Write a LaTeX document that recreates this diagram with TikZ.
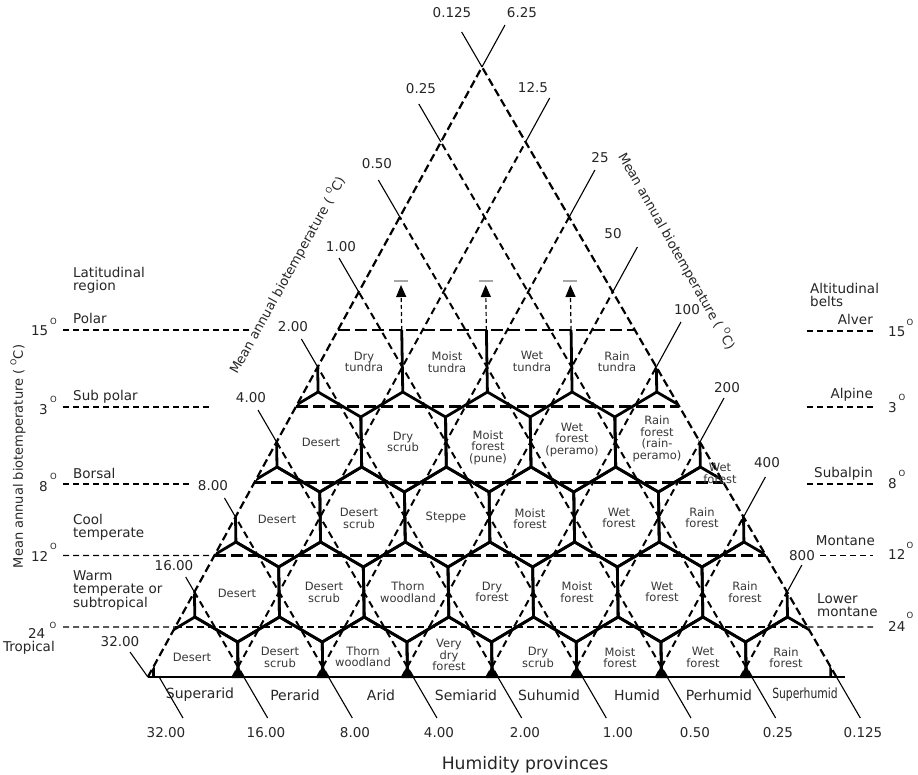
\documentclass[tikz,border=0pt]{standalone}
\usepackage{fontspec}
\setmainfont{DejaVu Sans}
\usetikzlibrary{arrows.meta,calc}
\newcommand\Pt[2]{({(#1)-(667-(#2))/60},{#2})}
\newcommand\fsz[1]{\fontsize{#1}{#1}\selectfont}
\newcommand\degO{\raisebox{0.5em}{\fsz{8}O}}
\begin{document}
\begin{tikzpicture}[x=1pt,y=-1pt,
 hexl/.style={line width=2.8pt,line join=round},
 latl/.style={line width=2pt,dash pattern=on 7pt off 4.5pt},
 edgel/.style={line width=2.2pt,dash pattern=on 8pt off 4pt},
 hzin/.style={line width=2.1pt,dash pattern=on 12pt off 5pt},
 hzlow/.style={line width=1.6pt,dash pattern=on 7pt off 4pt},
 hzout/.style={line width=1.3pt,dash pattern=on 6pt off 4pt},
 tickl/.style={line width=1.1pt},
 zone/.style={font=\fsz{11.5},align=center,text=black!78,inner sep=0pt},
 num/.style={font=\fsz{13.5},text=black!85,inner sep=0pt},
 prov/.style={font=\fsz{14},text=black!85,inner sep=0pt},
 side/.style={font=\fsz{13.5},text=black!85,inner sep=0pt,align=left},
 degsup/.style={font=\fsz{8.5},text=black!85,inner sep=0pt},
 axis/.style={font=\fsz{13},text=black!85,inner sep=0pt},
]
\useasboundingbox (0,0) rectangle (918,775);
\fill[white] (0,0) rectangle (918,775);

% ---------- lattice points ----------
\foreach \r in {1,...,9}{
  \pgfmathtruncatemacro\n{9-\r}
  \foreach \j in {0,...,\n}{
    \path \Pt{153.333+42.333*(\r-1)+84.667*\j}{667-75*(\r-1)} coordinate (L-\r-\j);
  }
}
\path \Pt{147.689}{677} coordinate (A);
\path \Pt{836.311}{677} coordinate (B);
\coordinate (C) at (L-9-0);
\coordinate (Bx) at (845,677);
\foreach \j in {0,...,8}{
  \path \Pt{153.333+84.667*\j+5.644}{677} coordinate (BD-\j);
  \path \Pt{153.333+84.667*\j-5.644}{677} coordinate (BA-\j);
  \path \Pt{153.333+84.667*\j+5.644+23.14}{718} coordinate (BT-\j);
}

% ---------- honeycomb ----------
\begin{scope}
\clip (A) -- (B) -- (C) -- cycle;
\foreach \r in {1,...,4}{
  \pgfmathtruncatemacro\n{8-\r}
  \foreach \k in {0,...,\n}{
    \pgfmathsetmacro\cx{195.667+42.333*(\r-1)+84.667*\k}
    \pgfmathsetmacro\cy{667-75*(\r-1)}
    \draw[hexl] \Pt{\cx}{\cy-50} -- \Pt{\cx+42.333}{\cy-25} -- \Pt{\cx+42.333}{\cy+25}
      -- \Pt{\cx}{\cy+50} -- \Pt{\cx-42.333}{\cy+25} -- \Pt{\cx-42.333}{\cy-25} -- cycle;
  }
}
\foreach \j in {0,...,4}{
  \pgfmathsetmacro\xv{322.667+84.667*\j}
  \draw[hexl] \Pt{\xv}{392} -- \Pt{\xv}{330};
}
\end{scope}
% small markers at base junctions
\foreach \j in {1,...,7}{
  \pgfmathsetmacro\xb{153.333+84.667*\j}
  \fill \Pt{\xb-6}{678} -- \Pt{\xb+6}{678} -- \Pt{\xb}{665} -- cycle;
}

% ---------- lattice lines ----------
\foreach \j in {1,...,7}{
  \pgfmathtruncatemacro\a{\j+1}
  \pgfmathtruncatemacro\b{9-\j}
  \draw[latl] (BD-\j) -- (L-\a-0);
  \draw[latl] (BA-\j) -- (L-\b-\j);
}
\draw[edgel] (A) -- (C);
\draw[edgel] (B) -- (C);
\draw[line width=2.8pt] (A) -- (Bx);

% ---------- horizontal belt lines ----------
\foreach \i/\y/\st in {1/330/hzin,2/406.5/hzin,3/482.5/hzin,4/555.5/hzin,5/627/hzlow}{
  \pgfmathsetmacro\t{(677-\y)/610}
  \coordinate (HL-\i) at ($(A)!\t!(C)$);
  \coordinate (HR-\i) at ($(B)!\t!(C)$);
  \draw[\st] (HL-\i) -- (HR-\i);
}
\coordinate (OL1a) at (63,330);   \coordinate (OL1b) at (250,330);
\coordinate (OL2a) at (63,407);   \coordinate (OL2b) at (212,407);
\coordinate (OL3a) at (63,484);   \coordinate (OL3b) at (190,484);
\coordinate (OL4a) at (63,555.5);
\coordinate (OL5a) at (63,627);
\draw[hzout] (OL1a) -- (OL1b);
\draw[hzout] (OL2a) -- (OL2b);
\draw[hzout] (OL3a) -- (OL3b);
\draw[hzout] (OL4a) -- (HL-4);
\draw[hzout] (OL5a) -- (HL-5);
\coordinate (OR1a) at (807,331);  \coordinate (OR1b) at (873,331);
\coordinate (OR2a) at (807,407);  \coordinate (OR2b) at (873,407);
\coordinate (OR3a) at (807,484);  \coordinate (OR3b) at (873,484);
\coordinate (OR4a) at (820,555.5);\coordinate (OR4b) at (873,555.5);
\coordinate (OR5b) at (873,627);
\draw[hzout] (OR1a) -- (OR1b);
\draw[hzout] (OR2a) -- (OR2b);
\draw[hzout] (OR3a) -- (OR3b);
\draw[hzout] (OR4a) -- (OR4b);
\draw[hzout] (HR-5) -- (OR5b);

% ---------- upward arrows above tundra ----------
\foreach \j in {1,2,3}{
  \pgfmathsetmacro\xa{322.667+84.667*\j}
  \path \Pt{\xa}{330} coordinate (AR0-\j);
  \path \Pt{\xa}{285} coordinate (AR1-\j);
  \path \Pt{\xa-7}{281} coordinate (GB0-\j);
  \path \Pt{\xa+7}{281} coordinate (GB1-\j);
  \draw[line width=1.2pt,dash pattern=on 4pt off 3pt,-{Triangle[length=12pt,width=10pt]}] (AR0-\j) -- (AR1-\j);
  \draw[line width=1.5pt,black!35] (GB0-\j) -- (GB1-\j);
}

% ---------- tick lines ----------
\foreach \j/\ey in {1/577,2/498,3/410,4/339,5/258,6/180,7/104,8/32}{
  \pgfmathtruncatemacro\a{\j+1}
  \pgfmathsetmacro\xl{153.333+42.333*\j}
  \pgfmathsetmacro\yl{667-75*\j}
  \path \Pt{\xl-0.5644*(\yl-\ey)}{\ey} coordinate (TL-\j);
  \draw[tickl] (L-\a-0) -- (TL-\j);
}
\coordinate (TL-0) at (130,652);
\draw[tickl] (A) -- (TL-0);
\foreach \j/\ey in {0/25,1/98,2/170,3/247,4/322,5/398,6/477,7/565}{
  \pgfmathtruncatemacro\a{9-\j}
  \pgfmathsetmacro\xl{492+42.333*\j}
  \pgfmathsetmacro\yl{67+75*\j}
  \path \Pt{\xl+0.5644*(\yl-\ey)}{\ey} coordinate (TR-\j);
  \draw[tickl] (L-\a-\j) -- (TR-\j);
}
\foreach \j in {0,...,8}{
  \draw[tickl] (BD-\j) -- (BT-\j);
}

% ---------- tick labels ----------
\node[num] (nl0) at (452,13) {0.125};
\node[num] (nl1) at (421,89) {0.25};
\node[num] (nl2) at (377,164) {0.50};
\node[num] (nl3) at (341,247) {1.00};
\node[num] (nl4) at (293,327) {2.00};
\node[num] (nl5) at (251,398) {4.00};
\node[num] (nl6) at (213,486) {8.00};
\node[num] (nl7) at (174,566) {16.00};
\node[num] (nl8) at (120,642) {32.00};
\node[num] (nr0) at (522,13) {6.25};
\node[num] (nr1) at (533,88) {12.5};
\node[num] (nr2) at (600,158) {25};
\node[num] (nr3) at (613,234) {50};
\node[num] (nr4) at (687,310) {100};
\node[num] (nr5) at (727,388) {200};
\node[num] (nr6) at (767,463) {400};
\node[num] (nr7) at (802,556) {800};
\node[num] (nb0) at (166,733) {32.00};
\node[num] (nb1) at (266,733) {16.00};
\node[num] (nb2) at (355,733) {8.00};
\node[num] (nb3) at (439,733) {4.00};
\node[num] (nb4) at (525,733) {2.00};
\node[num] (nb5) at (618,733) {1.00};
\node[num] (nb6) at (695,733) {0.50};
\node[num] (nb7) at (778,733) {0.25};
\node[num] (nb8) at (863,733) {0.125};

% ---------- humidity provinces ----------
\node[prov] (p1) at (200,695) {Superarid};
\node[prov] (p2) at (295,695) {Perarid};
\node[prov] (p3) at (381,695) {Arid};
\node[prov] (p4) at (466,695) {Semiarid};
\node[prov] (p5) at (549,695) {Suhumid};
\node[prov] (p6) at (637,695) {Humid};
\node[prov] (p7) at (719,695) {Perhumid};
\node[prov] (p8) at (805,695) {\scalebox{0.77}[1]{Superhumid}};
\node[font=\fsz{17.2},text=black!85,inner sep=0pt] (hp) at (525,765) {Humidity provinces};

% ---------- axis titles ----------
\node[axis,rotate=90] (axl) at (18,456.5) {Mean annual biotemperature ( \degO C)};
\node[axis,rotate=61] (axd) at (287,275) {Mean annual biotemperature ( \degO C)};
\node[axis,rotate=-60.5] (axr) at (677,251) {Mean annual biotemperature ( \degO C)};

% ---------- left column ----------
\node[side,anchor=west] (lt) at (73,280.5) {Latitudinal\\region};
\node[side,anchor=west] (l1) at (73,318) {Polar};
\node[side,anchor=west] (l2) at (73,397) {Sub polar};
\node[side,anchor=west] (l3) at (73,473) {Borsal};
\node[side,anchor=west] (l4) at (73,527.5) {Cool\\temperate};
\node[side,anchor=west] (l5) at (73,590) {Warm\\temperate or\\subtropical};
\node[side,anchor=west] (l6) at (3,648) {Tropical};
\node[num,anchor=east] (d1) at (48.5,331) {15};
\node[degsup] (o1) at (53.5,321) {O};
\node[num,anchor=east] (d2) at (48,410) {3};
\node[degsup] (o2) at (53.5,399) {O};
\node[num,anchor=east] (d3) at (48,487) {8};
\node[degsup] (o3) at (53.5,476) {O};
\node[num,anchor=east] (d4) at (48.5,556) {12};
\node[degsup] (o4) at (53.5,546) {O};
\node[num,anchor=east] (d5) at (45.5,633) {24};
\node[degsup] (o5) at (53,625) {O};

% ---------- right column ----------
\node[side,anchor=west] (rt) at (810,295) {Altitudinal\\belts};
\node[side,anchor=east] (r1) at (873,319) {Alver};
\node[side,anchor=east] (r2) at (873,395) {Alpine};
\node[side,anchor=east] (r3) at (873,474) {Subalpin};
\node[side,anchor=east] (r4) at (875,541) {Montane};
\node[side,anchor=west] (r5) at (817,605) {Lower\\montane};
\node[num,anchor=west] (e1) at (888,332) {15};
\node[degsup] (q1) at (910,322) {O};
\node[num,anchor=west] (e2) at (888,408) {3};
\node[degsup] (q2) at (902,397) {O};
\node[num,anchor=west] (e3) at (888,484) {8};
\node[degsup] (q3) at (902,473) {O};
\node[num,anchor=west] (e4) at (888,554) {12};
\node[degsup] (q4) at (910,545) {O};
\node[num,anchor=west] (e5) at (888,626) {24};
\node[degsup] (q5) at (910,615) {O};

% ---------- life zones ----------
\node[zone] (z11) at (192,657) {Desert};
\node[zone] (z12) at (280,657.5) {Desert\\scrub};
\node[zone] (z13) at (363,656.5) {Thorn\\woodland};
\node[zone] (z14) at (449,655) {Very\\dry\\forest};
\node[zone] (z15) at (538,657.5) {Dry\\scrub};
\node[zone] (z16) at (620,657.5) {Moist\\forest};
\node[zone] (z17) at (703,657.5) {Wet\\forest};
\node[zone] (z18) at (786,657.5) {Rain\\forest};

\node[zone] (z21) at (237,593) {Desert};
\node[zone] (z22) at (324,592.5) {Desert\\scrub};
\node[zone] (z23) at (408,592) {Thorn\\woodland};
\node[zone] (z24) at (492,592) {Dry\\forest};
\node[zone] (z25) at (577,592) {Moist\\forest};
\node[zone] (z26) at (662,592) {Wet\\forest};
\node[zone] (z27) at (745,592) {Rain\\forest};

\node[zone] (z31) at (277,519) {Desert};
\node[zone] (z32) at (359,518.5) {Desert\\scrub};
\node[zone] (z33) at (446,517) {Steppe};
\node[zone] (z34) at (530,518.5) {Moist\\forest};
\node[zone] (z35) at (619,518) {Wet\\forest};
\node[zone] (z36) at (702,517.5) {Rain\\forest};

\node[zone] (z41) at (321,442) {Desert};
\node[zone] (z42) at (403,442) {Dry\\scrub};
\node[zone] (z43) at (488,447.5) {Moist\\forest\\(pune)};
\node[zone] (z44) at (572,440) {Wet\\forest\\(peramo)};
\node[zone] (z45) at (657,439) {Rain\\forest\\(rain-\\peramo)};
\node[zone] (z46) at (720,473.5) {Wet\\forest};

\node[zone] (z51) at (364,362) {Dry\\tundra};
\node[zone] (z52) at (447,362) {Moist\\tundra};
\node[zone] (z53) at (532,361.5) {Wet\\tundra};
\node[zone] (z54) at (617,361.5) {Rain\\tundra};
\end{tikzpicture}
\end{document}
